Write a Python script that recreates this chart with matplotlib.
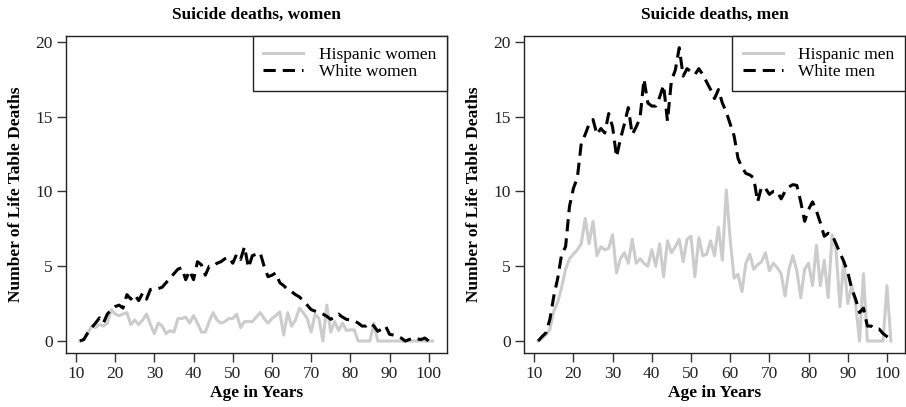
import numpy as np
import matplotlib
matplotlib.use("Agg")
from matplotlib import pyplot as plt

# ages 11..101
ages = np.arange(11, 102)

hispanic_women = [0.0, 0.1, 0.5, 1.0, 0.9, 1.1, 1.0, 1.2, 2.1, 1.8,
                  1.7, 1.8, 1.9, 1.1, 1.4, 1.1, 1.4, 1.8, 1.1, 0.5,
                  1.2, 1.0, 0.5, 0.7, 0.6, 1.5, 1.5, 1.6, 1.2, 1.7,
                  1.2, 0.6, 0.6, 1.3, 1.9, 1.4, 1.2, 1.3, 1.5, 1.5,
                  1.8, 0.9, 1.3, 1.3, 1.3, 1.6, 1.9, 1.5, 1.2, 1.5,
                  1.7, 1.95, 0.4, 1.9, 1.0, 1.4, 2.2, 1.9, 1.5, 0.6,
                  1.8, 1.5, 0.0, 2.4, 0.6, 1.3, 0.7, 1.2, 0.7, 0.75,
                  0.75, 0.0, 0.0, 0.0, 0.0, 1.2, 0.0, 0.0, 0.0, 0.0,
                  0.0, 0.0, 0.0, 0.0, 0.0, 0.0, 0.0, 0.0, 0.0, 0.0, 0.0]

white_women = [0.0, 0.1, 0.55, 0.9, 1.2, 1.55, 1.2, 1.8, 2.1, 2.3,
               2.4, 2.2, 3.1, 2.8, 3.1, 2.7, 3.2, 2.8, 3.45, 3.45,
               3.5, 3.6, 3.9, 4.2, 4.5, 4.8, 4.9, 4.1, 4.7, 4.1,
               5.3, 5.1, 4.4, 5.0, 5.0, 5.2, 5.3, 5.5, 5.6, 5.2,
               5.8, 5.45, 6.3, 4.9, 5.7, 5.8, 5.9, 5.0, 4.3, 4.4,
               4.55, 3.9, 3.7, 3.45, 3.3, 3.1, 2.95, 2.7, 2.4, 2.1,
               2.0, 1.9, 1.8, 1.65, 1.45, 1.6, 1.8, 1.6, 1.45, 1.4,
               1.35, 1.2, 1.0, 1.0, 1.2, 1.0, 0.65, 0.8, 1.0, 0.45,
               0.4, 0.33, 0.2, 0.0, 0.1, 0.2, 0.15, 0.1, 0.2, 0.0, np.nan]

hispanic_men = [0.0, 0.2, 0.4, 0.8, 2.0, 2.6, 3.6, 4.8, 5.5, 5.8,
                6.1, 6.5, 8.2, 6.5, 8.0, 5.7, 6.3, 6.1, 6.2, 7.1,
                4.55, 5.5, 5.9, 5.2, 6.8, 5.2, 5.5, 5.2, 5.0, 6.1,
                5.0, 6.5, 4.3, 6.7, 5.9, 6.3, 6.8, 5.3, 6.8, 7.0,
                4.3, 6.9, 5.7, 5.8, 6.7, 5.7, 7.6, 5.4, 10.1, 6.8,
                4.2, 4.45, 3.3, 5.2, 5.8, 4.8, 5.1, 5.3, 5.9, 4.7,
                5.2, 4.9, 4.5, 3.0, 4.8, 5.7, 4.7, 2.9, 4.8, 5.2,
                3.7, 6.4, 3.7, 5.4, 2.9, 7.1, 6.1, 2.3, 5.4, 2.5,
                3.7, 2.5, 0.0, 4.5, 0.0, 0.0, 0.0, 0.0, 0.0, 3.7, 0.0]

white_men = [0.0, 0.3, 0.55, 1.45, 3.0, 4.2, 5.8, 6.3, 9.0, 10.2,
             10.9, 13.2, 13.8, 14.5, 14.8, 13.8, 14.2, 13.9, 15.2, 14.3,
             12.3, 13.5, 14.5, 15.6, 13.8, 14.3, 14.9, 17.5, 15.9, 15.7,
             15.7, 16.3, 17.1, 14.7, 17.4, 18.1, 19.6, 17.7, 18.2, 18.0,
             17.8, 18.2, 17.8, 17.3, 16.8, 16.2, 16.8, 15.9, 15.3, 14.5,
             13.7, 12.2, 11.6, 11.2, 11.1, 10.9, 9.3, 10.3, 10.2, 9.8,
             10.0, 10.0, 9.5, 10.0, 10.3, 10.45, 10.4, 9.3, 8.0, 8.8,
             9.3, 8.7, 7.9, 7.0, 7.2, 7.1, 6.5, 5.9, 5.3, 4.6,
             3.5, 2.8, 1.9, 2.2, 1.0, 1.0, 0.8, 0.8, 0.5, 0.3, 0.1]

xticks = [10, 20, 30, 40, 50, 60, 70, 80, 90, 100]
yticks = [0, 5, 10, 15, 20]

plt.rcParams['font.family'] = ['Liberation Serif', 'DejaVu Serif']
plt.rcParams['font.size'] = 12.5

fig = plt.figure(figsize=(9.06, 4.07), dpi=100)
axLeft = fig.add_axes([0.0726, 0.1334, 0.4205, 0.7781])
axRight = fig.add_axes([0.5784, 0.1334, 0.4205, 0.7781])

panels = [(axLeft, hispanic_women, white_women, 'women'),
          (axRight, hispanic_men, white_men, 'men')]

for ax, hisp, white, sex in panels:
    ax.plot(ages, hisp, color='#cccccc', lw=2.2, label='Hispanic ' + sex)
    ax.plot(ages, white, color='black', lw=2.2, dashes=(4, 2.3),
            label='White ' + sex)
    ax.set_xlim(7.4, 104.6)
    ax.set_ylim(-0.78, 20.38)
    ax.set_xticks(xticks)
    ax.set_yticks(yticks)
    ax.tick_params(direction='out', length=6.5, width=1, pad=3,
                   color='#333333', labelcolor='#222222')
    for s in ax.spines.values():
        s.set_linewidth(1)
        s.set_color('#222222')
    ax.set_title('Suicide deaths, ' + sex, fontweight='bold', fontsize=12.5, pad=12)
    ax.set_xlabel('Age in Years', fontweight='bold', labelpad=2)
    ax.set_ylabel('Number of Life Table Deaths', fontweight='bold', labelpad=8)
    leg = ax.legend(loc='upper right', borderaxespad=0, fancybox=False,
                    framealpha=1, edgecolor='#222222', handlelength=2.3,
                    handletextpad=0.9, borderpad=0.6, labelspacing=0.1)
    leg.get_frame().set_linewidth(1)

fig.savefig('out.png', dpi=100)
